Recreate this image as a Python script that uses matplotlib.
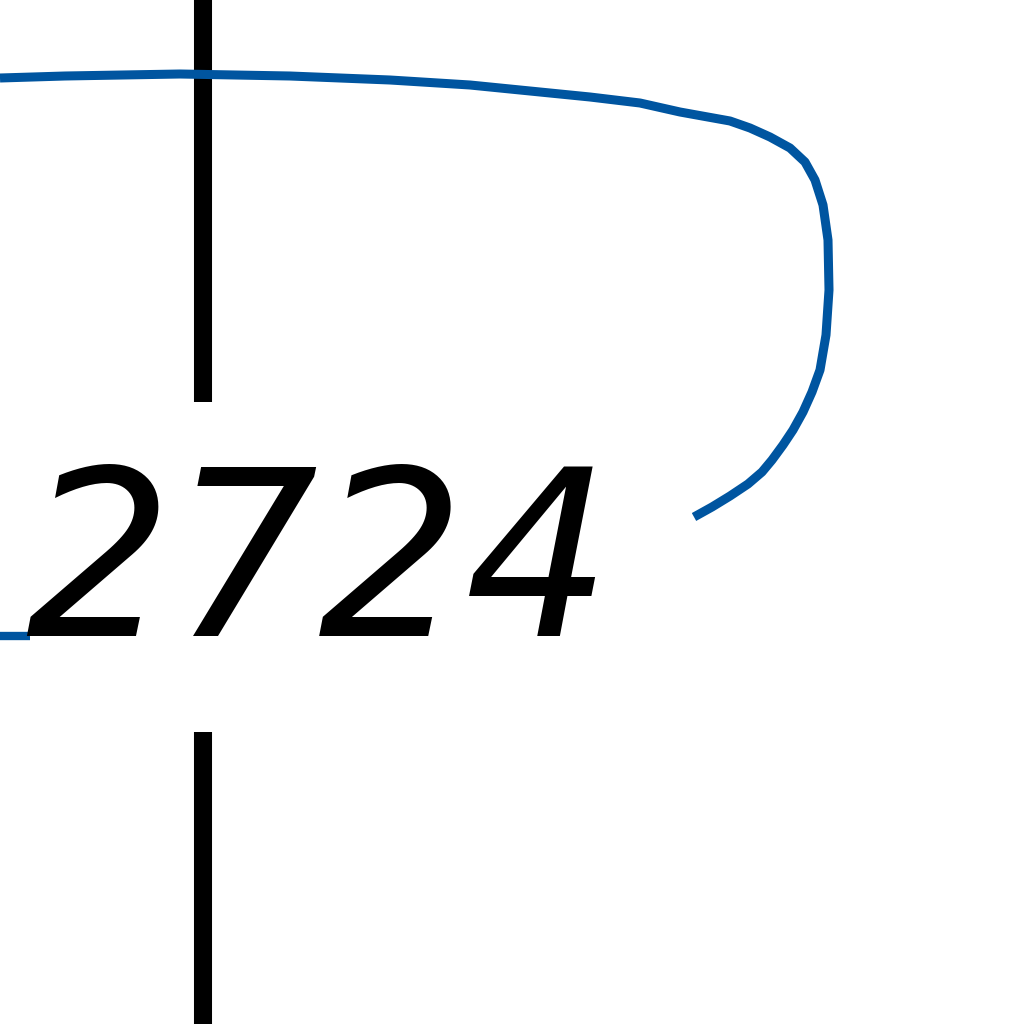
import matplotlib
matplotlib.use("Agg")
import matplotlib.pyplot as plt
from matplotlib.patches import Rectangle

curve_x = [0, 65, 180, 290, 390, 470, 530, 590, 640, 680, 730, 750, 770,
           790, 805, 815, 823, 828, 829, 826, 820, 812, 803, 793, 783, 772,
           762, 748, 730, 712, 694]
curve_y = [78, 76, 74, 76, 80, 85, 91, 97, 103, 112, 121, 128, 137,
           148, 162, 180, 205, 240, 290, 335, 370, 392, 412, 430, 445, 460,
           472, 484, 496, 507, 517]

# Short blue stub at lower left
stub_x = [0, 30]
stub_y = [636, 636]

# Vertical black line
vline_x = 203

label_text = "2724"
label_x = 318
label_y = 572

fig = plt.figure(figsize=(10.24, 10.24), dpi=100)
ax = fig.add_axes([0, 0, 1, 1])
ax.set_xlim(0, 1024)
ax.set_ylim(1024, 0)
ax.axis("off")

blue = "#0055A0"
ax.plot(curve_x, curve_y, color=blue, lw=6.5, solid_capstyle="butt", zorder=2)
ax.axvline(vline_x, color="black", lw=13, zorder=1)

# white mask behind the label
ax.add_patch(Rectangle((-60, 402), 752, 330, facecolor="white",
                       edgecolor="none", zorder=3))
ax.plot(stub_x, stub_y, color=blue, lw=6.0, solid_capstyle="butt", zorder=3.5)
ax.text(label_x, label_y, label_text, ha="center", va="center",
        fontsize=166, color="black", family="DejaVu Sans", style="oblique",
        zorder=4)

fig.savefig("out.png", dpi=100)
